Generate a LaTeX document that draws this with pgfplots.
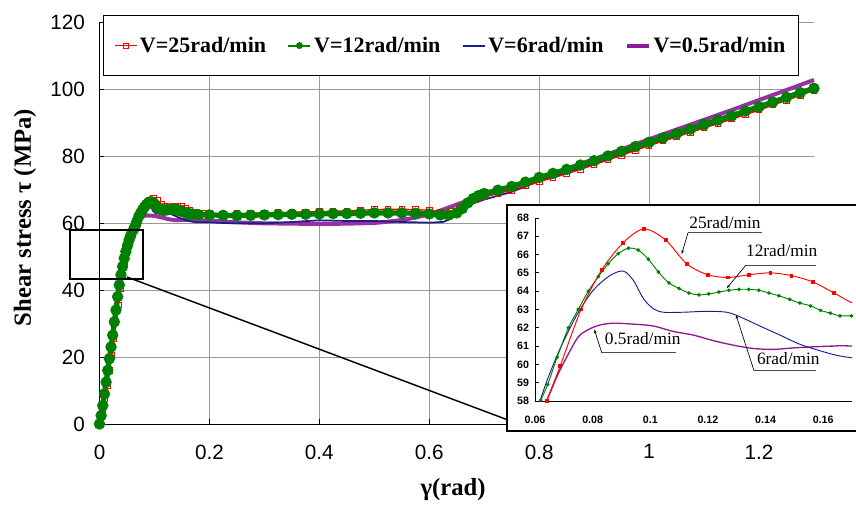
\documentclass[border=0pt]{standalone}
\usepackage{fontspec}
\setmainfont{Liberation Serif}
\newfontfamily\arial{Liberation Sans}
\usepackage{pgfplots}
\pgfplotsset{compat=1.18}
\usepackage{pgfplotstable}
\usetikzlibrary{arrows.meta}
\definecolor{cred}{HTML}{FF0000}
\definecolor{cgreen}{HTML}{008000}
\definecolor{cblue}{HTML}{1C1C8C}
\definecolor{cpurple}{HTML}{8C1C96}

\pgfplotstableread{
x y
0 0
0.003 1.5
0.006 4
0.01 7.5
0.014 11.5
0.018 16
0.022 20.5
0.026 25.5
0.03 30.5
0.034 35.5
0.038 40.5
0.042 44.5
0.046 48
0.05 51
0.055 54
0.06 56.5
0.064 58.0
0.0687 59.9
0.076 63.0
0.0831 65.15
0.0906 66.65
0.0978 67.4
0.1053 66.8
0.1126 65.5
0.1199 64.9
0.127 64.75
0.1343 64.9
0.1417 65.0
0.149 64.85
0.1565 64.5
0.1638 63.9
0.171 63.3
0.18 63.0
0.19 62.9
0.2 62.9
0.225 62.7
0.25 62.8
0.275 62.9
0.3 63.0
0.325 63.1
0.35 63.2
0.375 63.3
0.4 63.4
0.425 63.5
0.45 63.6
0.475 63.8
0.5 64.0
0.525 64.1
0.55 64.1
0.575 64.0
0.6 63.8
0.62 63.3
0.64 63.5
0.655 64.4
0.67 65.8
0.685 67.0
0.7 67.8
0.725 68.8
0.75 69.8
0.775 71.0
0.8 72.4
0.825 73.5
0.85 74.7
0.875 76.0
0.9 77.4
0.925 78.8
0.95 80.2
0.975 81.7
1.0 83.2
1.025 84.5
1.05 85.8
1.075 87.1
1.1 88.4
1.125 89.7
1.15 91.0
1.175 92.4
1.2 93.7
1.225 95.2
1.25 96.6
1.275 98.1
1.3 99.6
}\redtab

\pgfplotstableread{
x y
0 0
0.003 2.5
0.006 5.5
0.009 9
0.012 12.5
0.015 16
0.018 19.5
0.021 23
0.024 26.5
0.027 30.5
0.030 34
0.033 38
0.036 41.5
0.039 44.5
0.042 47
0.045 49.5
0.048 51.5
0.051 53.3
0.054 55
0.057 56.4
0.062 58.05
0.0644 58.9
0.0677 60.4
0.0716 62.0
0.075 63.0
0.0785 64.0
0.082 64.8
0.0854 65.5
0.0889 66.05
0.0924 66.35
0.0958 66.25
0.0993 65.75
0.1028 65.05
0.1065 64.45
0.11 64.15
0.1134 63.9
0.1169 63.8
0.1203 63.85
0.1238 63.95
0.1273 64.05
0.1308 64.1
0.1342 64.1
0.1377 64.05
0.1412 63.9
0.1446 63.75
0.1484 63.55
0.1519 63.35
0.1556 63.2
0.1591 62.95
0.1625 62.8
0.1658 62.65
0.1698 62.65
0.18 62.5
0.2 62.4
0.225 62.3
0.25 62.2
0.275 62.3
0.3 62.4
0.325 62.5
0.35 62.6
0.375 62.6
0.4 62.7
0.425 62.8
0.45 62.8
0.475 62.9
0.5 63.0
0.525 63.0
0.55 63.0
0.575 62.9
0.6 62.7
0.62 62.4
0.635 62.4
0.65 63.0
0.66 64.3
0.67 66.0
0.68 67.3
0.69 68.2
0.7 68.8
0.725 69.8
0.75 70.9
0.775 72.2
0.8 73.6
0.825 74.8
0.85 76.0
0.875 77.3
0.9 78.6
0.925 80.0
0.95 81.4
0.975 82.8
1.0 84.1
1.025 85.4
1.05 86.7
1.075 88.0
1.1 89.4
1.125 90.7
1.15 92.0
1.175 93.4
1.2 94.7
1.225 96.1
1.25 97.5
1.275 98.9
1.3 100.2
}\greentab

\pgfplotstableread{
x y
0 0
0.005 4.5
0.01 9.5
0.015 15.5
0.02 21.5
0.025 28
0.03 34.5
0.035 41
0.04 45.5
0.045 49.5
0.05 52.5
0.055 55
0.0617 58.0
0.0646 59.3
0.0687 60.85
0.0745 62.7
0.0802 64.05
0.086 64.85
0.0906 65.1
0.0941 64.6
0.0976 63.6
0.101 63.05
0.1045 62.85
0.1114 62.85
0.1195 62.9
0.1265 62.85
0.1311 62.6
0.138 62.1
0.145 61.6
0.1519 61.1
0.1588 60.75
0.1646 60.5
0.1704 60.35
0.18 60.2
0.2 60.2
0.225 60.0
0.25 59.9
0.3 59.9
0.35 60.3
0.4 60.8
0.45 60.6
0.5 60.6
0.55 60.3
0.6 60.1
0.625 60.3
0.64 61.3
0.655 63.0
0.67 65.0
0.685 66.2
0.7 67.0
0.75 69.3
0.8 72.5
0.85 75.0
0.9 77.6
0.95 80.4
1.0 83.2
1.05 85.8
1.1 88.5
1.15 91.1
1.2 93.8
1.25 96.9
1.3 100.1
}\bluetab

\pgfplotstableread{
x y
0 0
0.005 4.5
0.01 9.5
0.015 15
0.02 21
0.025 27
0.03 33
0.035 39
0.04 44
0.045 48.5
0.05 52
0.055 54.8
0.06 56.8
0.064 58.0
0.0675 59.3
0.071 60.4
0.075 61.5
0.0785 61.9
0.0825 62.15
0.0872 62.25
0.0941 62.2
0.101 62.1
0.108 61.8
0.115 61.6
0.1218 61.3
0.1288 61.05
0.1357 60.87
0.1427 60.82
0.1496 60.9
0.1565 60.96
0.1635 61.0
0.17 61.0
0.2 60.7
0.25 60.2
0.3 59.9
0.35 59.8
0.4 59.7
0.45 59.8
0.5 60.0
0.525 60.4
0.55 60.9
0.575 61.6
0.6 62.6
0.625 64.0
0.65 65.5
0.675 67.0
0.7 68.2
0.75 70.5
0.8 73.3
0.85 76.2
0.9 79.1
0.95 82.0
1.0 85.0
1.05 87.9
1.1 90.8
1.15 93.7
1.2 96.7
1.25 99.7
1.3 102.7
}\purpletab

\begin{document}
\begin{tikzpicture}
\useasboundingbox (0,0) rectangle (642pt,380.25pt);
\begin{axis}[
  name=main,
  at={(74.625pt,62.25pt)}, anchor=south west,
  scale only axis, width=535.875pt, height=301.5pt,
  xmin=0, xmax=1.3, ymin=0, ymax=120,
  axis x line=bottom, axis y line=left,
  axis line style={-, line width=0.75pt, black},
  xtick={0,0.2,0.4,0.6,0.8,1,1.2},
  xticklabels={0,0.2,0.4,0.6,0.8,1,1.2},
  ytick={0,20,40,60,80,100,120},
  grid=major, major grid style={black!40, line width=0.6pt},
  tick align=inside, major tick length=3.75pt,
  tick style={black, line width=0.6pt},
  ticklabel style={font=\arial\fontsize{15.5}{16}\selectfont},
  /pgf/number format/assume math mode=true,
  yticklabel style={xshift=-7.5pt},
  xticklabel style={yshift=-12pt},
  xlabel={γ(rad)},
  ylabel={Shear stress τ (MPa)},
  xlabel style={at={(axis description cs:0.4948,-0.1642)}, anchor=center, font=\bfseries\fontsize{18.5}{20}\selectfont},
  ylabel style={at={(axis description cs:-0.1043,0.5137)}, anchor=center, font=\bfseries\fontsize{18.5}{20}\selectfont},
  clip=false,
  legend columns=4,
  legend style={at={(axis description cs:0.0049,1.0174)}, anchor=north west,
    draw=black, line width=0.9pt, fill=white,
    inner xsep=7.75pt, inner ysep=14pt,
    font=\bfseries\fontsize{16.5}{18}\selectfont,
    /tikz/every even column/.append style={column sep=14pt}},
  legend image code/.code={\draw[mark repeat=2,mark phase=2,#1] plot coordinates {(0pt,0pt) (8.25pt,0pt) (16.5pt,0pt)};},
]
\addlegendimage{cred, line width=1pt, mark=square, mark size=1.8pt, mark options={line width=0.7pt}}
\addlegendentry{V=25rad/min}
\addlegendimage{cgreen, line width=1.5pt, mark=*, mark size=1.8pt}
\addlegendentry{V=12rad/min}
\addlegendimage{cblue, line width=1.5pt}
\addlegendentry{V=6rad/min}
\addlegendimage{cpurple, line width=3pt}
\addlegendentry{V=0.5rad/min}

\addplot[forget plot, cpurple!90!white, line width=3pt] table {\purpletab};
\addplot[forget plot, cblue, line width=1.3pt] table {\bluetab};
\addplot[forget plot, cred, line width=1pt, mark=square, mark size=2.1pt, mark options={line width=0.7pt}] table {\redtab};
\addplot[forget plot, cgreen, line width=3.9pt, mark=*, mark size=2.2pt] table {\greentab};
\end{axis}

\begin{scope}[shift={(0pt,380.25pt)}, x=0.75pt, y=-0.75pt]
  \draw[black, line width=1.1pt] (70,230) rectangle (143,279);
  \draw[black, line width=1.1pt] (127,277) -- (508,420);
  \draw[black, line width=1.6pt, fill=white] (507,205) rectangle (880,431);
\end{scope}

\begin{axis}[
  at={(401.25pt,79.5pt)}, anchor=south west,
  scale only axis, width=237.75pt, height=137.25pt,
  xmin=0.06, xmax=0.17, ymin=58, ymax=68,
  axis x line=bottom, axis y line=left,
  axis line style={-, line width=0.6pt, black},
  xtick={0.06,0.08,0.1,0.12,0.14,0.16},
  xticklabels={0.06,0.08,0.1,0.12,0.14,0.16},
  ytick={58,59,60,61,62,63,64,65,66,67,68},
  tick align=inside, major tick length=3pt,
  tick style={black, line width=0.6pt},
  xtick style={draw=none},
  ticklabel style={font=\arial\bfseries\fontsize{8}{9}\selectfont},
  /pgf/number format/assume math mode=true,
  yticklabel style={xshift=-1pt},
  xticklabel style={yshift=-7.8pt},
]
\addplot[cpurple, line width=1pt, smooth] table {\purpletab};
\addplot[cblue, line width=0.7pt, smooth] table {\bluetab};
\addplot[cgreen, line width=0.7pt, smooth, mark=*, mark size=1pt] table {\greentab};
\addplot[cred, line width=0.7pt, smooth, mark=square*, mark size=1.1pt] table {\redtab};
\end{axis}

\begin{scope}[shift={(0pt,380.25pt)}, x=0.75pt, y=-0.75pt, font=\fontsize{13}{14}\selectfont]
  \node[anchor=base] at (725,229) {25rad/min};
  \draw[black!70, line width=0.6pt] (688,232.7) -- (762,232.7);
  \draw[black, line width=0.5pt, -{Stealth[length=3pt,width=2pt]}] (688,232.7) -- (681.7,254);
  \node[anchor=base] at (781.7,256.5) {12rad/min};
  \draw[black!70, line width=0.6pt] (746,265) -- (816,265);
  \draw[black, line width=0.5pt, -{Stealth[length=3pt,width=2pt]}] (746,265) -- (726.7,288.3);
  \node[anchor=base] at (642.7,345) {0.5rad/min};
  \draw[black!70, line width=0.6pt] (601.7,352.7) -- (676,352.7);
  \draw[black, line width=0.5pt, -{Stealth[length=3pt,width=2pt]}] (601.7,352.7) -- (594.3,329.3);
  \node[anchor=base] at (788.3,364.5) {6rad/min};
  \draw[black!70, line width=0.6pt] (754,370.7) -- (816,370.7);
  \draw[black, line width=0.5pt, -{Stealth[length=3pt,width=2pt]}] (754,370.7) -- (736,315);
\end{scope}
\end{tikzpicture}
\end{document}
